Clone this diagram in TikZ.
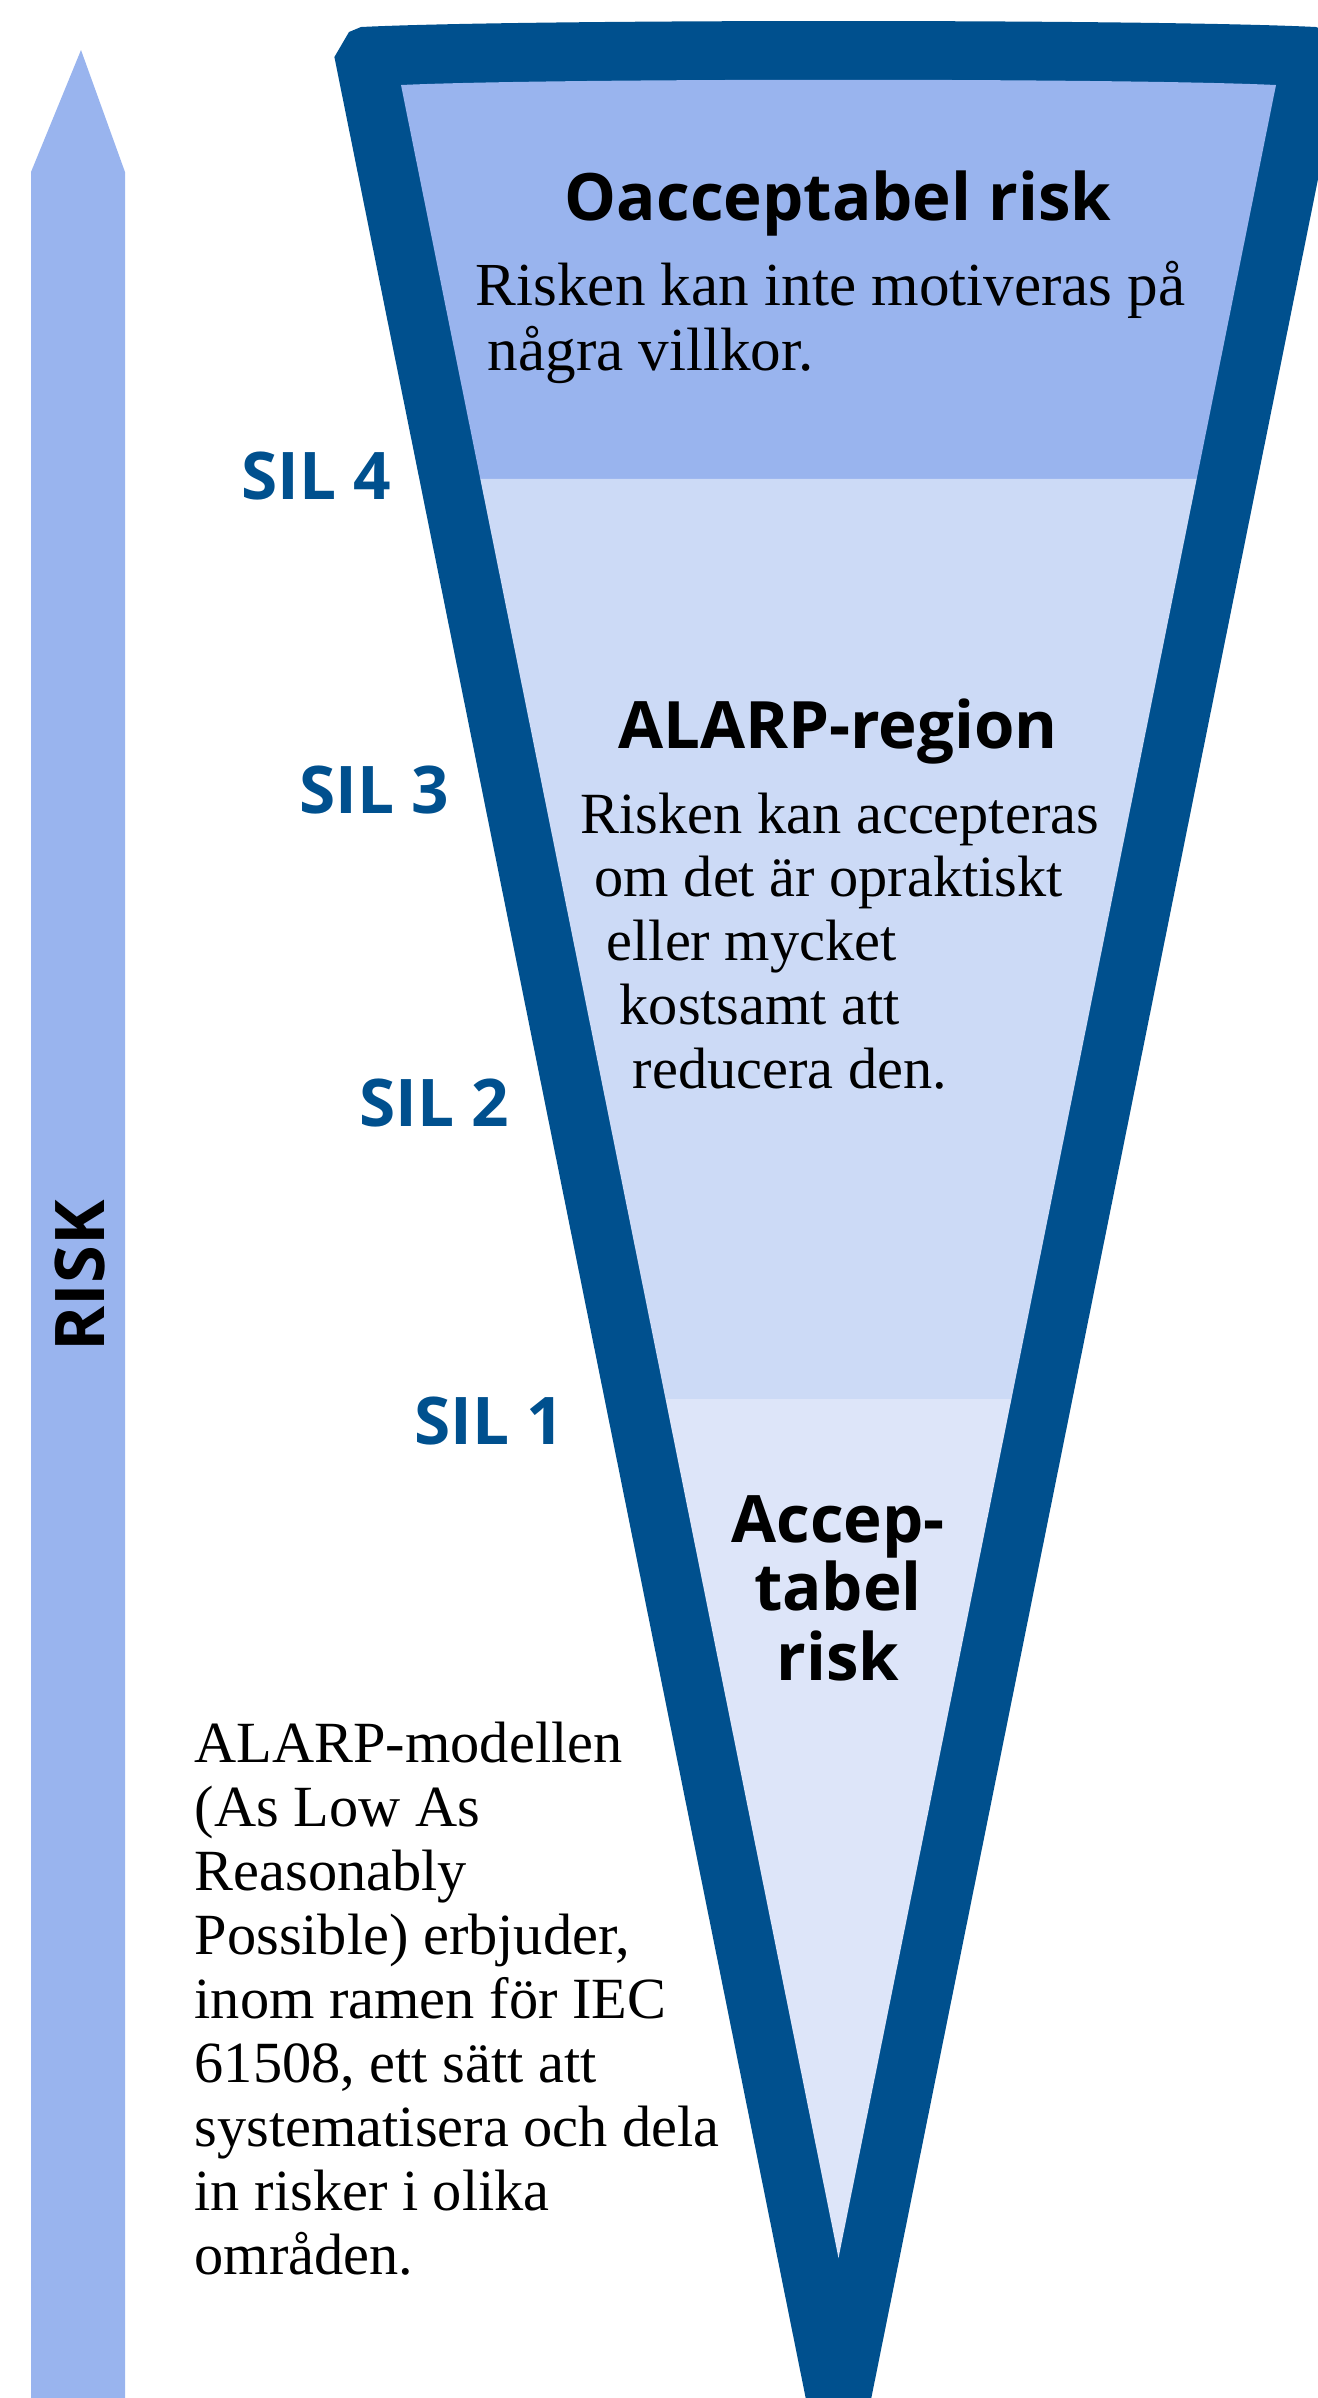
\documentclass[tikz,border=0pt]{standalone}
\usepackage{fontspec}
\setmainfont{Liberation Serif}
\setsansfont{Open Sans}
\usetikzlibrary{calc}

\definecolor{bleufonce}{RGB}{0,80,142}
\definecolor{bleuA}{RGB}{153,180,238}
\definecolor{bleuB}{RGB}{204,218,246}
\definecolor{bleuC}{RGB}{221,229,249}

\begin{document}
\begin{tikzpicture}[x=0.1mm,y=-0.1mm]
\tikzset{
	titre/.style={font=\sffamily\bfseries\fontsize{18.6}{22}\selectfont, inner sep=0pt, anchor=base},
	texte/.style={font=\fontsize{16.6}{19}\selectfont, inner sep=0pt, anchor=base west},
	niveau/.style={font=\sffamily\bfseries\fontsize{18.7}{22}\selectfont, text=bleufonce, inner sep=0pt, anchor=base east}
}
  \useasboundingbox (0,0) rectangle (1318,2398);
  \clip (0,0) rectangle (1318,2398);

 % la flèche
  \fill[bleuA] (31,2398) -- (31,172) -- (81,50) -- (125,172) -- (125,2398) -- cycle;
  \node[titre, font=\sffamily\bfseries\fontsize{19.5}{22}\selectfont, rotate=90] (risk) at (104,1276) {RISK};

 % l'entonnoir et ses trois zones
  \coordinate (hg) at (401,85);
  \coordinate (hd) at (1276,85);
  \coordinate (pointe) at (838.5,2258);
  \coordinate (z1g) at ($(hg)!0.1813!(pointe)$);
  \coordinate (z1d) at ($(hd)!0.1813!(pointe)$);
  \coordinate (z2g) at ($(hg)!0.6047!(pointe)$);
  \coordinate (z2d) at ($(hd)!0.6047!(pointe)$);
  \fill[bleufonce] (334.4,57) -- (349,32) -- (361,27) .. controls (520,19) and (1157,19) .. (1316,27)
     -- (1328,32) -- (1342.6,57) -- (838.5,2561) -- cycle;
  \fill[bleuA] (hg) .. controls (550,78) and (1127,78) .. (hd) -- (z1d) -- (z1g) -- cycle;
  \fill[bleuB] (z1g) -- (z1d) -- (z2d) -- (z2g) -- cycle;
  \fill[bleuC] (z2g) -- (z2d) -- (pointe) -- cycle;

% les niveaux SIL
  \foreach \n/\x/\y in {4/392/499, 3/450/813, 2/510/1126, 1/565/1444}
    \node[niveau] (sil\n) at (\x,\y) {SIL \n};

% du texte
  \node[titre] (oacc) at (838,220) {Oacceptabel risk};
  \node[texte, font=\fontsize{17.4}{19}\selectfont] (oacc1) at (475,305) {Risken kan inte motiveras på};
  \node[texte, font=\fontsize{17.4}{19}\selectfont] (oacc2) at (487,370) {några villkor.};

  \node[titre] (alarp) at (838,748) {ALARP-region};
  \foreach \ligne/\x [count=\i] in {Risken kan accepteras/580, om det är opraktiskt/594,
      eller mycket/606, kostsamt att/619, reducera den./632}
    \node[texte] (alarp\i) at (\x,{833+63.8*(\i-1)}) {\ligne};

  \foreach \mot/\y [count=\i] in {Accep-/1542, tabel/1610, risk/1680}
    \node[titre] (acc\i) at (838,\y) {\mot};

  \foreach \ligne [count=\i] in {ALARP-modellen, {(As Low As}, Reasonably, {Possible) erbjuder,},
      inom ramen för IEC, {61508, ett sätt att}, systematisera och dela, in risker i olika, områden.}
    \node[texte] (modell\i) at (194,{1762+64*(\i-1)}) {\ligne};
\end{tikzpicture}
\end{document}
